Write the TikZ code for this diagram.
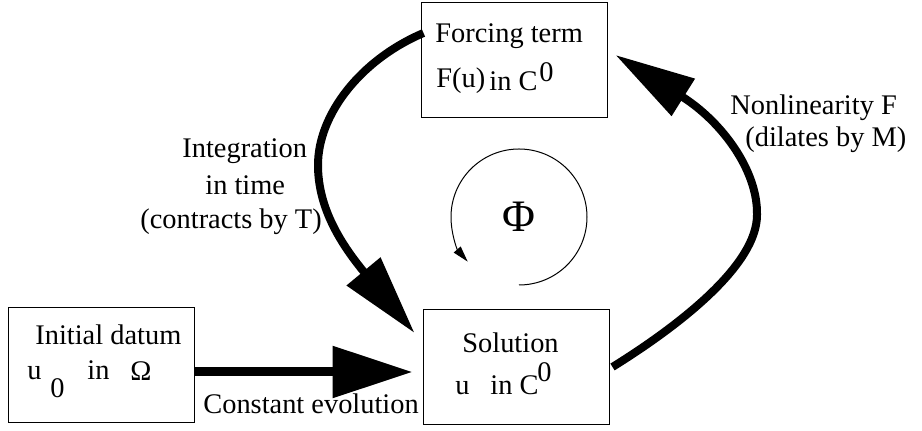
\documentclass[tikz,border=0pt]{standalone}
\usepackage{fontspec}
\setmainfont{Liberation Serif}
\usetikzlibrary{arrows.meta}

\begin{document}
\begin{tikzpicture}[x=0.5pt, y=-0.5pt,
  box/.style={draw, line width=0.5pt, minimum width=93pt, minimum height=57.5pt,
              inner sep=0pt},
  txt/.style={anchor=base west, inner sep=0pt, font=\fontsize{14.2}{17}\selectfont},
  bigarr/.style={line width=4.5pt, -{Triangle[length=40pt, width=25pt]}},
  curvarr/.style={line width=4pt, -{Triangle[length=40pt, width=21pt]}},
  turn/.style={line width=0.5pt, -{Triangle[length=8pt, width=4.5pt]}}
]
  \useasboundingbox (0,0) rectangle (922,431);

  % boxes
  \node[box] (force) at (514,60.5) {};
  \node[box] (datum) at (101,365) {};
  \node[box] (sol) at (516,367) {};

  % texts of the boxes
  \node[txt] (forcet) at (435,43) {Forcing term};
  \node[txt] (forceu) at (436,88) {F(u)};
  \node[txt] (forcec) at (489,91) {in C};
  \node[txt] (forcez) at (539,82) {0};

  \node[txt] (datumt) at (35,345) {Initial datum};
  \node[txt] (datumu) at (27,380) {u};
  \node[txt] (datumz) at (50,398) {0};
  \node[txt] (datumi) at (87,380) {in};
  \node[txt] (datumo) at (130,381) {Ω};

  \node[txt] (solt) at (462,353) {Solution};
  \node[txt] (solu) at (455,395) {u};
  \node[txt] (solc) at (490,395) {in C};
  \node[txt] (solz) at (537,382) {0};

  % connectors
  \draw[bigarr] ([yshift=-3.5pt]datum.east) -- ([xshift=-5pt, yshift=-2.5pt]sol.west);
  \draw[curvarr] ([xshift=1.5pt, yshift=13.75pt]force.west)
    .. controls (360,60) and (318,115) .. (318,165)
    .. controls (318,205) and (337.5,240) .. ([xshift=-4pt, yshift=-12pt]sol.north west);
  \draw[curvarr] ([xshift=1.5pt]sol.east)
    .. controls (680,325) and (757,265) .. (757,215)
    .. controls (758,170) and (721,121) .. ([xshift=4pt, yshift=2.75pt]force.east);

  % labels of the connectors
  \node[txt] (integ1) at (182,158) {Integration};
  \node[txt] (integ2) at (205,195) {in time};
  \node[txt] (integ3) at (140,229) {(contracts by T)};
  \node[txt] (nonlin1) at (730,115) {Nonlinearity F};
  \node[txt] (nonlin2) at (745,147) {(dilates by M)};
  \node[txt] (const) at (203,414) {Constant evolution};

  % the map
  \coordinate (phic) at (519,217);
  \node[anchor=base, inner sep=0pt, font=\fontsize{22.5}{26}\selectfont] (phi) at (519,232) {Φ};
  \draw[turn] (phic) ++(0,68) arc[start angle=-90, end angle=221, radius=34pt];
\end{tikzpicture}
\end{document}
